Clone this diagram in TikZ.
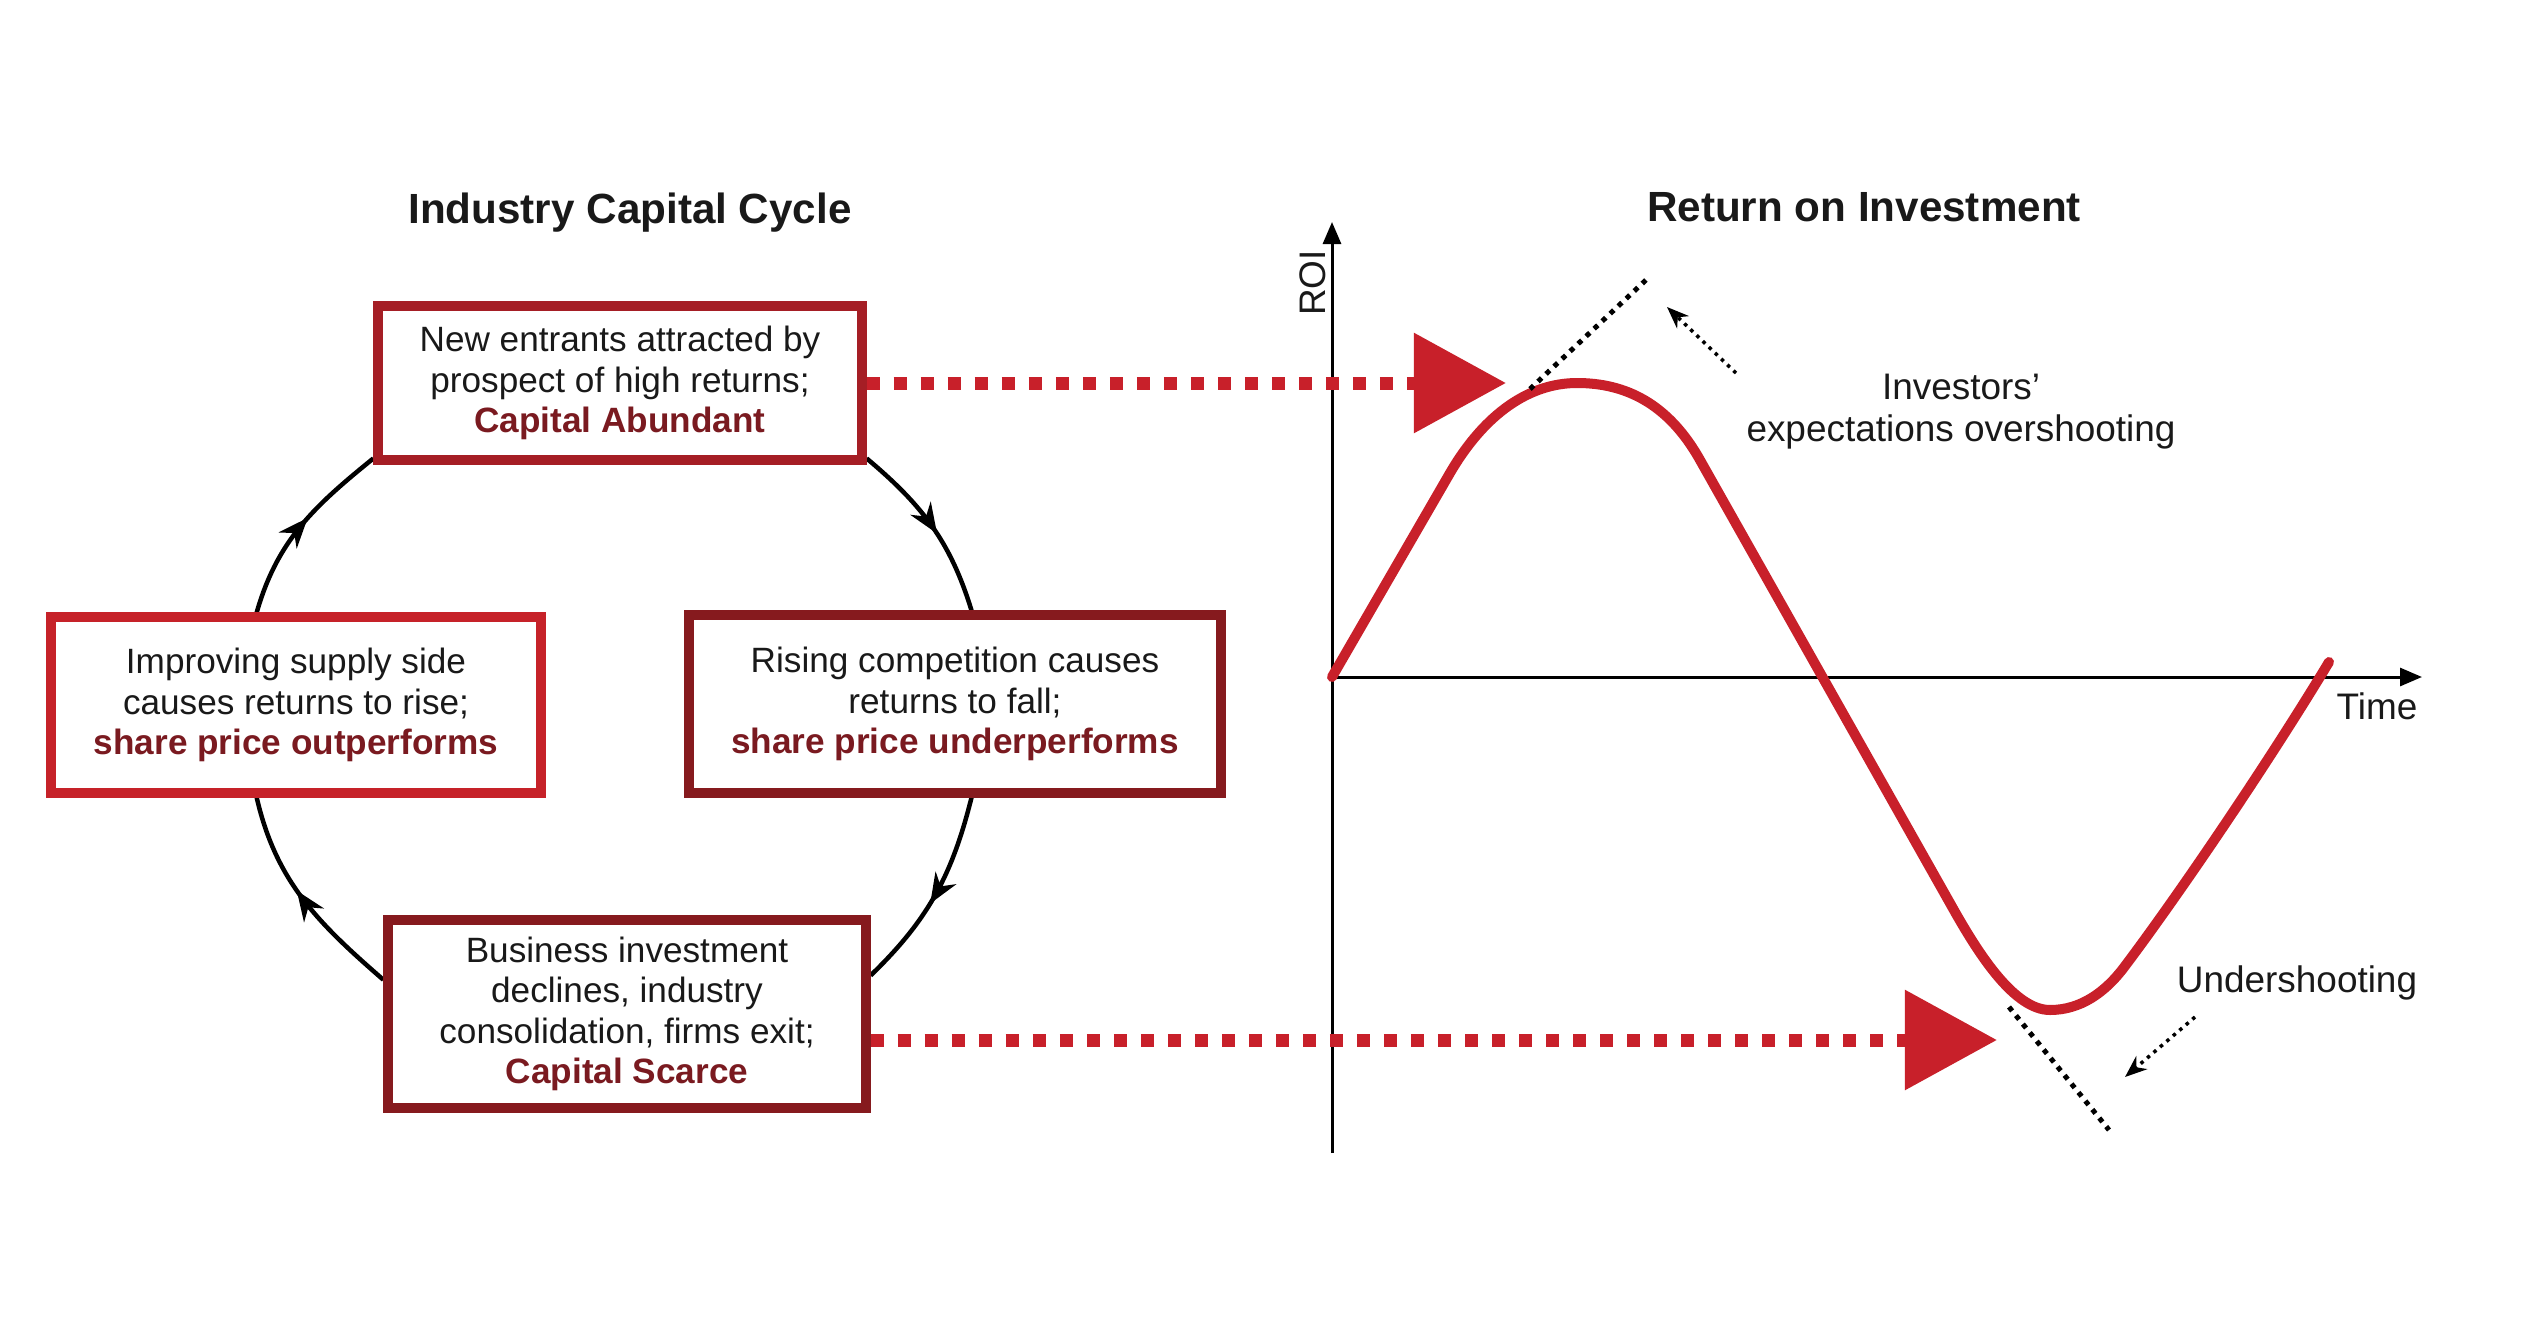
\documentclass[tikz,border=0pt]{standalone}
\usepackage{fontspec}
\setmainfont{Liberation Sans}
\usetikzlibrary{arrows.meta,positioning,calc,decorations.markings,backgrounds}

\definecolor{boxred}{HTML}{C62229}
\definecolor{boxdark}{HTML}{861A1E}
\definecolor{boxmid}{HTML}{A51E25}
\definecolor{textred}{HTML}{7A1A20}
\definecolor{curvered}{HTML}{C8202A}

\newcommand{\redword}[1]{{\bfseries\color{textred}#1}}

\begin{document}
\begin{tikzpicture}[
  x=0.01cm, y=0.01cm,
  every node/.style={font=\fontsize{10}{11.5}\selectfont, text=black!90},
  stagebox/.style={draw, line width=0.1cm, fill=white, align=center, inner sep=0pt},
  heading/.style={font=\fontsize{12}{14}\selectfont\bfseries},
  ring/.style={line width=0.045cm, postaction={decorate},
    decoration={markings, mark=at position 0.55 with {\arrow{Stealth[length=0.3cm,width=0.24cm]}}}},
  axis/.style={line width=0.03cm, -{Triangle[length=0.22cm,width=0.18cm]}},
  flow/.style={line width=0.13cm, curvered, dash pattern=on 0.13cm off 0.14cm,
    -{Triangle[length=0.92cm,width=0.97cm]}},
  roi/.style={line width=0.1cm, curvered, line cap=round},
  guide/.style={line width=0.05cm, dash pattern=on 0.05cm off 0.06cm},
  pointer/.style={line width=0.035cm, dash pattern=on 0.035cm off 0.05cm,
    -{Stealth[length=0.22cm,width=0.17cm]}},
  note/.style={font=\fontsize{10.5}{12}\selectfont, align=center}
]
\useasboundingbox (0,0) rectangle (2535,-1339);

% industry capital cycle
\node[heading] (cycletitle) at (630,-213) {Industry Capital Cycle};
\node[stagebox, draw=boxmid, minimum width=4.83cm, minimum height=1.53cm]
  (abundant) at (620,-383)
  {New entrants attracted by\\prospect of high returns;\\\redword{Capital Abundant}};
\node[stagebox, draw=boxdark, minimum width=5.32cm, minimum height=1.77cm]
  (falling) at (955,-704)
  {Rising competition causes\\returns to fall;\\\redword{share price underperforms}};
\node[stagebox, draw=boxdark, minimum width=4.77cm, minimum height=1.87cm]
  (scarce) at (627,-1014)
  {Business investment\\declines, industry\\consolidation, firms exit;\\\redword{Capital Scarce}};
\node[stagebox, draw=boxred, minimum width=4.9cm, minimum height=1.75cm]
  (rising) at (296,-705)
  {Improving supply side\\causes returns to rise;\\\redword{share price outperforms}};

\begin{scope}[on background layer]
\draw[ring] (abundant.-17) to[out=-40,in=107] (falling.80);
\draw[ring] (falling.280) to[out=-104,in=44] (scarce.9);
\draw[ring] (scarce.172) to[out=139,in=-77] (rising.247);
\draw[ring] (rising.113) to[out=74,in=-141] (abundant.197);
\end{scope}

% return on investment
\node[heading] (roititle) at (1864,-207) {Return on Investment};
\coordinate (origin) at (1332,-677);
\coordinate (ytop) at (1332,-222);
\coordinate (ybottom) at (1332,-1153);
\coordinate (xend) at (2422,-677);
\draw[axis] (ybottom) -- (ytop);
\draw[axis] (origin) -- (xend);
\node[note, rotate=90] (roilabel) at (1313,-283) {ROI};
\node[note] (timelabel) at (2377,-706) {Time};

\draw[roi] (origin) -- (1450,-473)
  .. controls (1485,-413) and (1530,-383) .. (1577,-383)
  .. controls (1625,-383) and (1668,-403) .. (1700,-460)
  -- (1955,-912)
  .. controls (1980,-956) and (2015,-1010) .. (2050,-1010)
  .. controls (2080,-1010) and (2105,-993) .. (2125,-966)
  .. controls (2180,-893) and (2270,-760) .. (2329,-662);

\coordinate (hightip) at (1506,-383);
\coordinate (lowtip) at (1997,-1040);
\draw[flow] (abundant.east |- hightip) -- (hightip);
\draw[flow] (scarce.east |- lowtip) -- (lowtip);

% overshooting / undershooting
\coordinate (overA) at (1530,-389);
\coordinate (overB) at (1647,-279);
\coordinate (underA) at (2009,-1007);
\coordinate (underB) at (2109,-1130);
\draw[guide] (overA) -- (overB);
\draw[guide] (underA) -- (underB);
\coordinate (overtail) at (1736,-373);
\coordinate (overhead) at (1667,-307);
\coordinate (undertail) at (2195,-1017);
\coordinate (underhead) at (2125,-1077);
\draw[pointer] (overtail) -- (overhead);
\draw[pointer] (undertail) -- (underhead);
\node[note] (overnote) at (1961,-412) {Investors’\\expectations overshooting};
\node[note] (undernote) at (2297,-983) {Undershooting};
\end{tikzpicture}
\end{document}
